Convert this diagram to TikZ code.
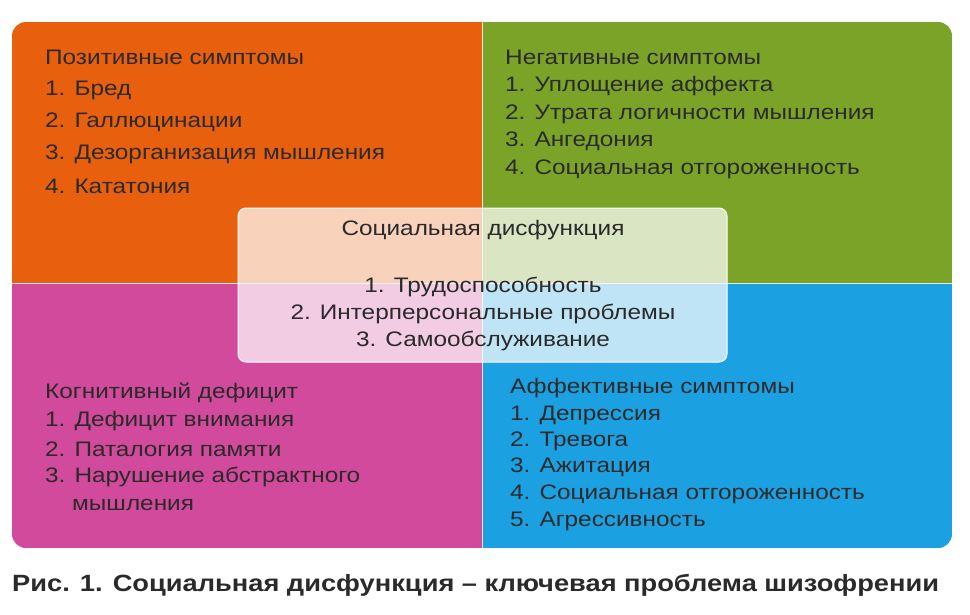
\documentclass[tikz,border=0pt]{standalone}
\usepackage{fontspec}
\setmainfont[FakeStretch=1.16]{Liberation Sans}
\definecolor{corange}{HTML}{E8600E}
\definecolor{cgreen}{HTML}{7BA328}
\definecolor{cpink}{HTML}{D24A9C}
\definecolor{cblue}{HTML}{1BA1E2}
\definecolor{ctext}{HTML}{2A2A2A}
\begin{document}
\begin{tikzpicture}[x=1pt,y=-1pt,
  txt/.style={anchor=west,inner sep=0pt,text=ctext,font=\fontsize{21}{24}\selectfont},
  ttl/.style={txt,font=\fontsize{23.5}{26}\selectfont\bfseries}]
\useasboundingbox (0,0) rectangle (970,614);
\fill[white] (0,0) rectangle (970,614);
\begin{scope}
\clip[rounded corners=14pt] (12,22) rectangle (952,548);
\fill[corange] (12,22) rectangle (482,283);
\fill[cgreen] (482,22) rectangle (952,283);
\fill[cpink] (12,283) rectangle (482,548);
\fill[cblue] (482,283) rectangle (952,548);
\draw[white!80!gray,line width=1pt] (482,22) -- (482,548) (12,283) -- (952,283);
\end{scope}
\node[txt] (p0) at (45,57) {Позитивные симптомы};
\node[txt] (p1) at (45,90) {1. Бред};
\node[txt] (p2) at (45,122) {2. Галлюцинации};
\node[txt] (p3) at (45,154) {3. Дезорганизация мышления};
\node[txt] (p4) at (45,186) {4. Кататония};
\node[txt] (n0) at (505,57) {Негативные симптомы};
\node[txt] (n1) at (505,86) {1. Уплощение аффекта};
\node[txt] (n2) at (505,114) {2. Утрата логичности мышления};
\node[txt] (n3) at (505,141) {3. Ангедония};
\node[txt] (n4) at (505,169) {4. Социальная отгороженность};
\node[txt] (c0) at (45,393) {Когнитивный дефицит};
\node[txt] (c1) at (45,421) {1. Дефицит внимания};
\node[txt] (c2) at (45,449) {2. Паталогия памяти};
\node[txt] (c3) at (45,477) {3. Нарушение абстрактного};
\node[txt] (c4) at (72,505) {мышления};
\node[txt] (a0) at (510,388) {Аффективные симптомы};
\node[txt] (a1) at (510,415) {1. Депрессия};
\node[txt] (a2) at (510,441) {2. Тревога};
\node[txt] (a3) at (510,467) {3. Ажитация};
\node[txt] (a4) at (510,494) {4. Социальная отгороженность};
\node[txt] (a5) at (510,521) {5. Агрессивность};
\fill[white,opacity=0.72,rounded corners=8pt] (238,208) rectangle (727,362);
\draw[white,line width=1pt,rounded corners=8pt] (238,208) rectangle (727,362);
\node[txt,anchor=center] (s0) at (483,230) {Социальная дисфункция};
\node[txt,anchor=center] (s1) at (483,287) {1. Трудоспособность};
\node[txt,anchor=center] (s2) at (483,314) {2. Интерперсональные проблемы};
\node[txt,anchor=center] (s3) at (483,341) {3. Самообслуживание};
\node[ttl] (cap) at (12,585) {Рис. 1. Социальная дисфункция – ключевая проблема шизофрении};
\end{tikzpicture}
\end{document}
